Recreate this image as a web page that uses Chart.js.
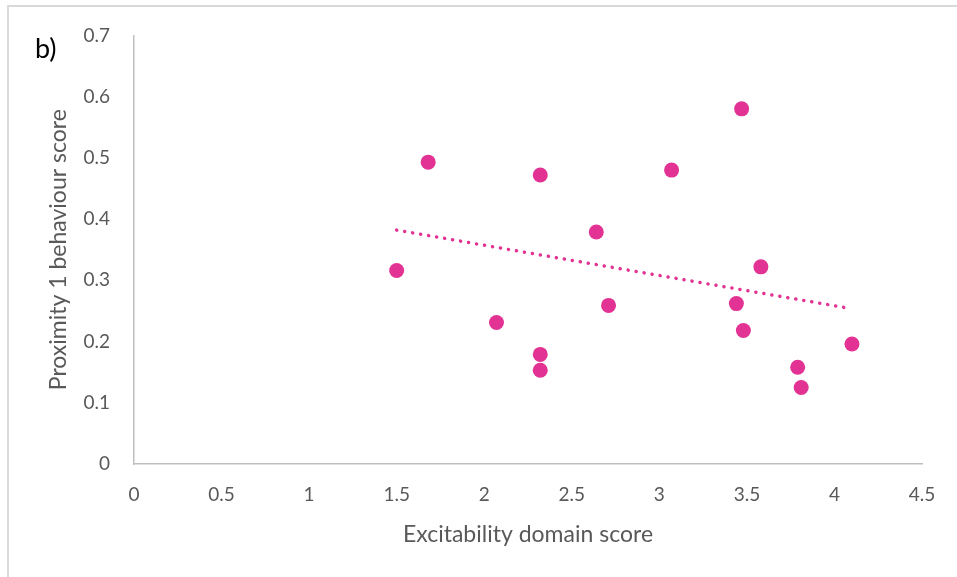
<!DOCTYPE html>
<html>
<head>
<meta charset="utf-8">
<script src="https://cdn.jsdelivr.net/npm/chart.js@4"></script>
<style>
    body { margin: 0; background: #fff; overflow: hidden; }
    #frame {
        position: absolute; left: 7px; top: 5px; width: 1000px; height: 1000px;
        border-left: 2px solid #d9d9d9; border-top: 2px solid #d9d9d9;
    }
    #panel {
        position: absolute; left: 35px; top: 31px;
        font-family: Lato, sans-serif; font-size: 27px; color: #000;
    }
    #wrap { position: absolute; left: 0; top: 0; width: 957px; height: 577px; }
</style>
</head>
<body>
<div id="frame"></div>
<div id="wrap"><canvas id="scatterChart"></canvas></div>
<div id="panel">b)</div>
<script>
// excitability domain score vs proximity 1 behaviour score
const excitability = [1.50, 1.68, 2.07, 2.32, 2.32, 2.32, 2.64, 2.71, 3.07, 3.47, 3.44, 3.48, 3.58, 3.79, 3.81, 4.10];
const proximity    = [0.316, 0.493, 0.231, 0.472, 0.179, 0.153, 0.379, 0.259, 0.480, 0.580, 0.262, 0.218, 0.322, 0.158, 0.125, 0.196];

// trendline end points as drawn
const trendX = [1.50, 4.09];
const trendY = [0.382, 0.254];

const xTicks = [0, 0.5, 1, 1.5, 2, 2.5, 3, 3.5, 4, 4.5];
const yTicks = [0, 0.1, 0.2, 0.3, 0.4, 0.5, 0.6, 0.7];

const pink = '#E23293';
const grey = '#595959';
const fontFamily = 'Lato, sans-serif';

document.addEventListener('DOMContentLoaded', function() {
    const ctx = document.getElementById('scatterChart').getContext('2d');

    new Chart(ctx, {
        type: 'scatter',
        data: {
            datasets: [{
                label: 'Scores',
                data: excitability.map((x, i) => ({ x: x, y: proximity[i] })),
                backgroundColor: pink,
                borderColor: pink,
                borderWidth: 0,
                pointRadius: 7.5,
                pointHoverRadius: 7.5
            }, {
                label: 'Linear trend',
                data: trendX.map((x, i) => ({ x: x, y: trendY[i] })),
                showLine: true,
                borderColor: pink,
                borderWidth: 3.5,
                borderDash: [0.1, 8],
                borderCapStyle: 'round',
                pointRadius: 0,
                pointHoverRadius: 0,
                fill: false
            }]
        },
        options: {
            responsive: true,
            maintainAspectRatio: false,
            animation: false,
            layout: {
                padding: { left: 0, top: 34, right: 35, bottom: 0 }
            },
            scales: {
                x: {
                    type: 'linear',
                    min: 0,
                    max: 4.5,
                    afterBuildTicks: function(scale) {
                        scale.ticks = xTicks.map(v => ({ value: v }));
                    },
                    afterFit: function(scale) { scale.height = 113; },
                    grid: { display: false, drawTicks: false },
                    border: { display: true, color: '#bfbfbf', width: 1.5 },
                    ticks: {
                        color: grey,
                        padding: 19,
                        font: { family: fontFamily, size: 19 },
                        maxRotation: 0,
                        autoSkip: false,
                        callback: function(value) { return String(value); }
                    },
                    title: {
                        display: true,
                        text: 'Excitability domain score',
                        color: grey,
                        font: { family: fontFamily, size: 23 },
                        padding: { top: 29, bottom: 29 }
                    }
                },
                y: {
                    type: 'linear',
                    min: 0,
                    max: 0.7,
                    afterBuildTicks: function(scale) {
                        scale.ticks = yTicks.map(v => ({ value: v }));
                    },
                    afterFit: function(scale) { scale.width = 134; },
                    grid: { display: false, drawTicks: false },
                    border: { display: true, color: '#bfbfbf', width: 1.5 },
                    ticks: {
                        color: grey,
                        padding: 24,
                        font: { family: fontFamily, size: 19 },
                        autoSkip: false,
                        callback: function(value) { return String(value); }
                    },
                    title: {
                        display: true,
                        text: 'Proximity 1 behaviour score',
                        color: grey,
                        font: { family: fontFamily, size: 23 },
                        padding: { top: 45, bottom: 45 }
                    }
                }
            },
            plugins: {
                legend: { display: false },
                tooltip: { enabled: false }
            }
        }
    });
});
</script>
</body>
</html>
